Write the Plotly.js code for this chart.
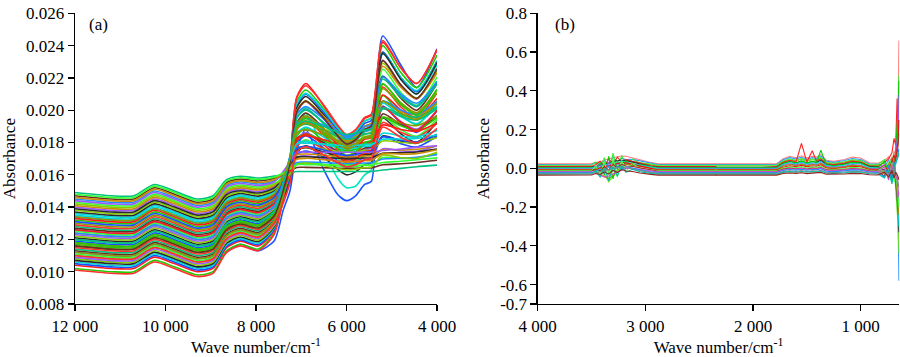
<!DOCTYPE html>
<html><head><meta charset="utf-8">
<script src="https://cdn.plot.ly/plotly-3.0.1.min.js"></script>
<style>html,body{margin:0;padding:0;background:#fff}#chart{width:900px;height:357px}</style>
</head><body><div id="chart"></div>
<script>
// Panel (a): anchor wavenumbers (cm-1) and spectra
const wavenumberA = [12000, 11200, 10700, 10250, 9800, 9300, 8950, 8650, 8350, 7950, 7600, 7400, 7250, 7100, 6900, 6500, 6200, 6000, 5800, 5600, 5450, 5200, 4800, 4450, 4000];
const spectraA = [
[.01080,.01060,.01060,.01120,.01080,.01030,.01050,.01120,.01170,.01130,.01190,.01380,.01500,.01750,.01880,.01630,.01480,.01440,.01470,.01540,.01560,.02460,.02280,.02140,.02380],
[.01100,.01080,.01080,.01150,.01110,.01060,.01080,.01200,.01240,.01210,.01300,.01460,.01600,.01880,.01980,.01750,.01580,.01520,.01530,.01600,.01630,.02360,.02200,.02100,.02280],
[.01020,.01000,.01000,.01070,.01030,.00980,.01000,.01130,.01170,.01140,.01240,.01447,.01669,.02051,.02125,.02007,.01889,.01830,.01859,.01933,.01954,.02400,.02233,.02140,.02341],
[.01040,.01020,.01020,.01090,.01050,.01000,.01020,.01149,.01188,.01159,.01255,.01460,.01681,.02080,.02165,.02026,.01902,.01840,.01871,.01949,.01970,.02420,.02263,.02165,.02376],
[.01050,.01030,.01030,.01100,.01060,.01010,.01030,.01158,.01197,.01168,.01262,.01457,.01667,.02029,.02099,.01987,.01876,.01820,.01848,.01918,.01937,.02360,.02203,.02115,.02306],
[.01060,.01040,.01040,.01110,.01070,.01020,.01040,.01168,.01206,.01178,.01270,.01470,.01681,.02038,.02104,.01998,.01893,.01840,.01866,.01932,.01951,.02352,.02203,.02121,.02302],
[.01070,.01050,.01050,.01120,.01080,.01030,.01050,.01177,.01215,.01187,.01278,.01461,.01660,.02014,.02085,.01971,.01857,.01800,.01829,.01900,.01920,.02352,.02191,.02101,.02296],
[.01080,.01060,.01060,.01130,.01090,.01040,.01060,.01186,.01224,.01196,.01285,.01469,.01665,.01996,.02058,.01959,.01860,.01810,.01835,.01897,.01914,.02291,.02152,.02076,.02247],
[.01090,.01070,.01070,.01140,.01100,.01050,.01070,.01196,.01233,.01206,.01293,.01463,.01649,.01985,.02053,.01944,.01835,.01780,.01807,.01876,.01895,.02309,.02155,.02069,.02257],
[.01100,.01080,.01080,.01150,.01110,.01060,.01080,.01205,.01242,.01215,.01300,.01482,.01674,.01994,.02053,.01960,.01867,.01820,.01843,.01901,.01918,.02272,.02142,.02071,.02232],
[.01110,.01090,.01090,.01160,.01120,.01070,.01090,.01214,.01251,.01224,.01307,.01466,.01638,.01951,.02014,.01912,.01811,.01760,.01785,.01849,.01867,.02253,.02110,.02031,.02206],
[.01120,.01100,.01100,.01170,.01130,.01080,.01100,.01224,.01260,.01234,.01315,.01481,.01658,.01953,.02007,.01920,.01833,.01790,.01812,.01866,.01881,.02212,.02092,.02026,.02177],
[.01130,.01110,.01110,.01180,.01140,.01090,.01110,.01233,.01269,.01243,.01322,.01468,.01628,.01921,.01982,.01885,.01788,.01740,.01764,.01825,.01842,.02209,.02074,.02000,.02167],
[.01140,.01120,.01120,.01190,.01150,.01100,.01120,.01243,.01278,.01253,.01330,.01505,.01673,.01951,.02002,.01921,.01840,.01800,.01820,.01871,.01885,.02193,.02082,.02021,.02162],
[.01150,.01130,.01130,.01200,.01160,.01110,.01130,.01252,.01287,.01262,.01338,.01468,.01611,.01877,.01933,.01844,.01755,.01710,.01732,.01788,.01804,.02144,.02020,.01952,.02107],
[.01160,.01140,.01140,.01210,.01170,.01120,.01140,.01261,.01295,.01271,.01345,.01494,.01651,.01910,.01956,.01882,.01807,.01770,.01789,.01835,.01848,.02133,.02032,.01977,.02108],
[.01170,.01150,.01150,.01220,.01180,.01130,.01150,.01271,.01304,.01281,.01353,.01467,.01595,.01838,.01891,.01806,.01722,.01680,.01701,.01754,.01769,.02091,.01974,.01910,.02057],
[.01180,.01160,.01160,.01230,.01190,.01140,.01160,.01280,.01313,.01290,.01360,.01500,.01647,.01888,.01931,.01862,.01794,.01760,.01777,.01820,.01832,.02094,.02002,.01952,.02073],
[.01190,.01170,.01170,.01240,.01200,.01150,.01170,.01289,.01322,.01299,.01367,.01466,.01577,.01794,.01842,.01765,.01688,.01650,.01669,.01717,.01731,.02025,.01920,.01863,.01998],
[.01200,.01180,.01180,.01250,.01210,.01160,.01180,.01299,.01331,.01309,.01375,.01503,.01638,.01856,.01895,.01833,.01771,.01740,.01756,.01794,.01805,.02045,.01962,.01917,.02028],
[.01210,.01190,.01190,.01260,.01220,.01170,.01190,.01308,.01340,.01318,.01382,.01458,.01551,.01735,.01780,.01708,.01636,.01600,.01618,.01663,.01676,.01952,.01854,.01801,.01928],
[.01220,.01200,.01200,.01270,.01230,.01180,.01200,.01318,.01349,.01328,.01390,.01527,.01668,.01885,.01920,.01864,.01808,.01780,.01794,.01829,.01839,.02055,.01981,.01943,.02043],
[.01230,.01210,.01210,.01280,.01240,.01190,.01210,.01327,.01358,.01337,.01398,.01504,.01618,.01821,.01861,.01797,.01732,.01700,.01716,.01756,.01768,.02016,.01930,.01883,.01998],
[.01240,.01220,.01220,.01290,.01250,.01200,.01220,.01336,.01367,.01346,.01405,.01547,.01691,.01903,.01934,.01884,.01835,.01810,.01822,.01853,.01862,.02056,.01991,.01958,.02048],
[.01250,.01230,.01230,.01300,.01260,.01210,.01230,.01346,.01376,.01356,.01413,.01503,.01602,.01779,.01816,.01757,.01699,.01670,.01685,.01721,.01731,.01957,.01879,.01838,.01943],
[.01260,.01240,.01240,.01310,.01270,.01220,.01240,.01355,.01385,.01365,.01420,.01567,.01715,.01921,.01949,.01905,.01862,.01840,.01851,.01878,.01886,.02056,.02001,.01973,.02054],
[.01270,.01250,.01250,.01320,.01280,.01230,.01250,.01364,.01394,.01374,.01427,.01530,.01638,.01818,.01850,.01798,.01746,.01720,.01733,.01766,.01775,.01977,.01909,.01874,.01968],
[.01280,.01260,.01260,.01330,.01290,.01240,.01260,.01374,.01403,.01384,.01435,.01570,.01704,.01890,.01913,.01876,.01839,.01820,.01829,.01853,.01859,.02007,.01961,.01938,.02009],
[.01290,.01270,.01270,.01340,.01300,.01250,.01270,.01383,.01412,.01393,.01442,.01529,.01622,.01778,.01808,.01761,.01714,.01690,.01702,.01731,.01739,.01924,.01863,.01832,.01918],
[.01300,.01280,.01280,.01350,.01310,.01260,.01280,.01393,.01421,.01403,.01450,.01573,.01695,.01858,.01878,.01847,.01816,.01800,.01808,.01827,.01833,.01957,.01921,.01904,.01964],
[.01320,.01300,.01300,.01370,.01330,.01280,.01300,.01411,.01439,.01421,.01465,.01565,.01668,.01827,.01852,.01811,.01770,.01750,.01760,.01786,.01793,.01954,.01903,.01877,.01954],
[.01330,.01310,.01310,.01380,.01340,.01290,.01310,.01421,.01448,.01431,.01473,.01580,.01686,.01827,.01842,.01817,.01792,.01780,.01786,.01802,.01806,.01908,.01881,.01869,.01919],
[.01340,.01320,.01320,.01390,.01350,.01300,.01320,.01430,.01457,.01440,.01480,.01543,.01611,.01725,.01747,.01712,.01677,.01660,.01669,.01690,.01696,.01835,.01793,.01772,.01839],
[.01360,.01340,.01340,.01410,.01370,.01320,.01340,.01449,.01475,.01459,.01495,.01588,.01679,.01795,.01807,.01788,.01769,.01760,.01765,.01776,.01780,.01858,.01840,.01834,.01874],
[.01370,.01350,.01350,.01420,.01380,.01330,.01350,.01458,.01484,.01468,.01502,.01571,.01643,.01751,.01768,.01741,.01714,.01700,.01707,.01724,.01729,.01840,.01809,.01795,.01849],
[.01380,.01360,.01360,.01430,.01390,.01340,.01360,.01468,.01493,.01478,.01510,.01590,.01668,.01763,.01771,.01759,.01746,.01740,.01743,.01751,.01753,.01809,.01800,.01799,.01830],
[.01400,.01380,.01380,.01450,.01410,.01360,.01380,.01486,.01510,.01496,.01525,.01579,.01634,.01708,.01717,.01702,.01687,.01680,.01684,.01693,.01696,.01761,.01748,.01745,.01780],
[.01410,.01390,.01390,.01460,.01420,.01370,.01390,.01496,.01519,.01506,.01533,.01595,.01655,.01724,.01729,.01721,.01714,.01710,.01712,.01717,.01718,.01755,.01754,.01758,.01780],
[.01430,.01410,.01410,.01480,.01440,.01390,.01410,.01514,.01537,.01524,.01547,.01583,.01620,.01669,.01675,.01665,.01655,.01650,.01652,.01659,.01660,.01707,.01702,.01704,.01730],
[.01450,.01430,.01430,.01500,.01460,.01410,.01430,.01533,.01555,.01543,.01562,.01600,.01636,.01677,.01679,.01676,.01672,.01670,.01671,.01673,.01674,.01698,.01702,.01709,.01725],
[.01470,.01450,.01450,.01520,.01480,.01430,.01450,.01552,.01573,.01562,.01578,.01600,.01621,.01645,.01646,.01644,.01641,.01640,.01641,.01642,.01643,.01662,.01668,.01676,.01690],
[.01490,.01470,.01470,.01540,.01500,.01450,.01470,.01570,.01591,.01580,.01592,.01602,.01611,.01620,.01620,.01620,.01620,.01620,.01620,.01620,.01620,.01630,.01640,.01650,.01660],
[.01010,.00990,.00990,.01060,.01020,.00970,.00990,.01120,.01160,.01130,.01230,.01447,.01679,.02076,.02151,.02031,.01910,.01850,.01880,.01955,.01976,.02432,.02261,.02166,.02372],
[.01120,.01100,.01100,.01170,.01130,.01080,.01100,.01224,.01260,.01234,.01315,.01471,.01637,.01914,.01965,.01883,.01801,.01760,.01781,.01832,.01846,.02160,.02047,.01985,.02128],
[.01180,.01160,.01160,.01230,.01190,.01140,.01160,.01280,.01313,.01290,.01360,.01486,.01626,.01892,.01949,.01857,.01766,.01720,.01743,.01800,.01816,.02165,.02038,.01968,.02130],
[.01260,.01240,.01240,.01310,.01270,.01220,.01240,.01355,.01385,.01365,.01420,.01511,.01613,.01810,.01854,.01784,.01715,.01680,.01697,.01741,.01753,.02020,.01926,.01875,.01998],
[.01310,.01290,.01290,.01360,.01320,.01270,.01290,.01402,.01430,.01412,.01458,.01550,.01641,.01762,.01776,.01754,.01731,.01720,.01726,.01740,.01744,.01836,.01813,.01803,.01850],
[.01350,.01330,.01330,.01400,.01360,.01310,.01330,.01439,.01466,.01449,.01487,.01590,.01687,.01792,.01796,.01790,.01783,.01780,.01782,.01786,.01787,.01820,.01821,.01825,.01846],
[.01390,.01370,.01370,.01440,.01400,.01350,.01370,.01477,.01501,.01487,.01518,.01582,.01642,.01709,.01712,.01707,.01702,.01700,.01701,.01704,.01705,.01733,.01736,.01741,.01759],
[.01420,.01400,.01400,.01470,.01430,.01380,.01400,.01505,.01528,.01515,.01540,.01572,.01605,.01663,.01673,.01656,.01639,.01630,.01634,.01645,.01648,.01722,.01706,.01701,.01739],
[.01440,.01420,.01420,.01490,.01450,.01400,.01420,.01524,.01546,.01534,.01555,.01620,.01680,.01740,.01740,.01740,.01740,.01740,.01740,.01740,.01740,.01750,.01760,.01770,.01780],
[.01460,.01440,.01440,.01510,.01470,.01420,.01440,.01542,.01564,.01552,.01569,.01608,.01646,.01696,.01702,.01693,.01684,.01680,.01682,.01688,.01689,.01731,.01728,.01731,.01755],
[.01480,.01460,.01460,.01530,.01490,.01440,.01460,.01561,.01582,.01571,.01585,.01611,.01636,.01662,.01663,.01662,.01661,.01660,.01660,.01661,.01661,.01676,.01684,.01693,.01705],
[.01240,.01220,.01220,.01290,.01250,.01200,.01220,.01336,.01367,.01346,.01405,.01554,.01711,.01974,.02022,.01945,.01868,.01830,.01849,.01897,.01911,.02205,.02100,.02043,.02178],
[.01160,.01140,.01140,.01210,.01170,.01120,.01140,.01261,.01295,.01271,.01345,.01501,.01673,.01990,.02057,.01950,.01843,.01790,.01817,.01883,.01902,.02307,.02157,.02073,.02257],
[.01200,.01180,.01180,.01250,.01210,.01160,.01180,.01299,.01331,.01309,.01375,.01541,.01704,.01911,.01931,.01899,.01866,.01850,.01858,.01878,.01884,.02014,.01975,.01957,.02020],
[.01100,.01080,.01080,.01150,.01110,.01060,.01080,.01205,.01242,.01215,.01300,.01423,.01549,.01743,.01774,.01724,.01675,.01650,.01662,.01693,.01702,.01896,.01831,.01798,.01888],
[.01340,.01320,.01320,.01390,.01350,.01300,.01320,.01430,.01457,.01440,.01480,.01585,.01697,.01885,.01920,.01864,.01808,.01780,.01794,.01829,.01839,.02055,.01981,.01943,.02043]
];

// Panel (b): anchor wavenumbers (cm-1) and spectra
const wavenumberB = [4000, 3600, 3500, 3460, 3420, 3380, 3340, 3300, 3260, 3220, 3180, 3120, 3050, 2950, 2880, 2360, 2345, 2330, 1780, 1720, 1660, 1600, 1550, 1500, 1450, 1410, 1370, 1320, 1250, 1150, 1080, 1000, 920, 840, 780, 740, 710, 690, 675, 662, 652, 645];
const spectraB = [
[.024,.024,.025,.030,.034,.042,.050,.056,.060,.064,.062,.055,.044,.030,.024,.024,.024,.024,.024,.050,.062,.055,.065,.053,.062,.058,.072,.042,.036,.046,.058,.053,.029,.026,.040,.060,.030,.090,.060,.200,.340,.660],
[.020,.020,.021,.028,.018,.040,.022,.058,.036,.052,.045,.046,.038,.026,.020,.020,.020,.020,.020,.044,.055,.049,.057,.046,.055,.051,.064,.037,.031,.040,.051,.046,.024,.022,.005,.045,-.010,.050,-.080,-.150,-.300,-.580],
[.016,.016,.017,.032,-.004,.055,-.030,.078,-.010,.066,.020,.048,.028,.022,.016,.016,.016,.016,.016,.038,.048,.042,.050,.040,.048,.044,.056,.031,.026,.034,.044,.040,.020,.018,.045,-.020,.060,-.040,.090,.150,.280,.480],
[.012,.012,.012,.000,-.015,-.030,-.069,-.040,-.020,.005,.030,.035,.027,.018,.012,.012,.012,.012,.012,.034,.044,.038,.046,.036,.044,.040,.052,.027,.022,.030,.040,.036,.016,.014,-.020,.030,-.050,.020,-.100,-.200,-.300,-.440],
[.009,.009,.010,.020,.036,.010,.050,.020,.058,.035,.045,.036,.026,.015,.009,.009,.009,-.012,.009,.031,.041,.035,.129,.033,.091,.037,.049,.024,.019,.027,.037,.033,.013,.011,.030,.050,.080,.155,.120,.360,.150,.250],
[.006,.006,.007,.010,.016,.022,.030,.036,.040,.042,.040,.032,.022,.011,.006,.006,.006,.006,.006,.026,.035,.029,.037,.028,.035,.031,.042,.020,.015,.022,.031,.028,.010,.008,-.010,.020,-.030,.040,-.060,-.120,-.220,-.330],
[.003,.003,.004,-.010,.030,-.035,.062,-.055,.040,-.010,.038,.012,.020,.009,.003,.003,.003,.003,.003,.025,.035,.029,.037,.027,.035,.031,.094,.018,.013,.021,.031,.027,.007,.005,.035,-.030,.050,-.030,.080,.180,.300,.450],
[.000,.000,.001,.012,.005,.025,.010,.035,.020,.038,.030,.024,.016,.005,.000,.000,.000,.000,.000,.020,.029,.023,.031,.022,.029,.025,.036,.014,.009,.016,.025,.022,.004,.002,-.025,.010,-.045,.030,-.050,-.100,-.200,-.300],
[-.003,-.003,-.002,.006,.015,-.008,.030,.000,.028,.010,.022,.020,.012,.002,-.003,-.003,-.003,-.003,-.003,.015,.023,.018,.024,.016,.023,.019,.029,.009,.005,.011,.019,.016,.000,-.002,.020,-.035,.040,-.020,.070,.120,.200,.380],
[-.006,-.006,-.006,-.015,-.028,-.040,-.055,-.035,-.010,.008,.020,.018,.010,-.001,-.006,-.006,-.006,-.006,-.006,.012,.020,.015,.021,.013,.020,.016,.026,.006,.002,.008,.016,.013,-.003,-.005,-.030,.025,-.060,.060,-.040,-.090,-.160,-.240],
[-.009,-.009,-.008,-.004,.002,.008,.015,.022,.028,.030,.028,.020,.010,-.003,-.009,-.009,-.035,-.009,-.009,.006,.013,.009,.015,.008,.013,.011,.019,.002,-.002,.004,.011,.008,-.006,-.008,.015,-.020,.030,.070,.040,.090,.150,.250],
[-.012,-.012,-.011,.010,-.030,.035,-.060,.050,-.045,.040,-.015,.025,.000,-.006,-.012,-.012,-.012,-.012,-.012,.001,.007,.004,.008,.002,.007,.005,.012,-.003,-.006,-.001,.005,.002,-.010,-.011,.010,-.050,.030,-.070,-.020,-.080,-.120,-.200],
[-.015,-.015,-.014,-.005,-.012,.008,-.008,.020,.002,.022,.012,.010,.002,-.010,-.015,-.015,-.015,-.015,-.015,-.004,.001,-.002,.002,-.003,.001,-.001,.005,-.008,-.010,-.006,-.001,-.003,-.013,-.014,-.040,.010,-.060,.020,.050,.080,.120,.180],
[-.018,-.018,-.018,-.025,-.035,-.045,-.040,-.030,-.020,-.008,.000,.000,-.006,-.014,-.018,-.018,-.018,-.018,-.018,-.007,-.002,-.005,-.001,-.006,-.002,-.004,.002,-.011,-.013,-.009,-.004,-.006,-.016,-.017,.005,-.060,.020,-.050,-.030,-.060,-.100,-.150],
[-.022,-.022,-.021,-.014,-.004,-.025,.010,-.015,.012,-.005,.008,.002,-.008,-.018,-.022,-.022,-.022,-.022,-.022,-.011,-.006,-.009,-.005,-.010,-.006,-.008,-.002,-.015,-.017,-.013,-.008,-.010,-.020,-.021,-.045,.015,-.070,.030,.020,.050,.080,.100],
[-.026,-.026,-.025,-.022,-.018,-.012,-.006,.000,.004,.006,.004,-.004,-.012,-.021,-.026,-.026,-.026,-.026,-.026,-.017,-.013,-.016,-.012,-.016,-.013,-.015,-.010,-.020,-.022,-.019,-.015,-.016,-.024,-.025,-.010,-.040,.000,-.030,-.020,-.040,-.070,-.100],
[-.030,-.030,-.029,-.012,-.045,.000,-.065,.010,-.040,.015,-.020,-.005,-.018,-.026,-.030,-.030,-.030,-.030,-.030,-.021,-.017,-.020,-.016,-.020,-.017,-.019,-.014,-.024,-.026,-.023,-.019,-.020,-.028,-.029,-.050,-.010,-.080,.010,.030,.040,.060,.080],
[-.035,-.035,-.034,-.027,-.032,-.018,-.030,-.010,-.022,-.006,-.014,-.016,-.024,-.031,-.035,-.035,-.035,-.035,-.035,-.027,-.024,-.026,-.023,-.027,-.024,-.025,-.021,-.030,-.031,-.029,-.026,-.027,-.033,-.034,-.020,-.045,-.010,-.050,-.020,-.030,-.045,-.060]
];

// Tick labels
const xTicksA = [12000, 10000, 8000, 6000, 4000];
const xTickTextA = ['12 000', '10 000', '8 000', '6 000', '4 000'];
const xTicksB = [4000, 3000, 2000, 1000];
const xTickTextB = ['4 000', '3 000', '2 000', '1 000'];
const yTicksB = [-0.7, -0.6, -0.4, -0.2, 0, 0.2, 0.4, 0.6, 0.8];
const yTickTextB = ['-0.7', '-0.6', '-0.4', '-0.2', '0.0', '0.2', '0.4', '0.6', '0.8'];

// Styles
const outlierColorsA = ['#1a55ff', '#00e8c0'];
const paletteA = ['#22cc00', '#ff1a1a', '#1a4dff', '#00d8d8', '#2b2b2b', '#88cc00', '#9b59ff', '#cc8a00', '#33ff33', '#1e90ff', '#6b2e1f', '#00c080', '#ff3030', '#8a9a00'];
const colorsB = ['#ff8080', '#3399ff', '#33ee33', '#66dd22', '#ff2020', '#333333', '#00cc00', '#00d5d5', '#9955ee', '#999900', '#ee1111', '#44ff44', '#aa3322', '#dd44dd', '#1e90ff', '#888888', '#00bfa0', '#992222'];

const FONT = 'Liberation Serif, "Times New Roman", Times, serif';
const traces = [];
spectraA.forEach((row, i) => {
  const c = i < 2 ? outlierColorsA[i] : paletteA[(i - 2) % paletteA.length];
  traces.push({x: wavenumberA, y: row, xaxis: 'x', yaxis: 'y', type: 'scatter', mode: 'lines',
    line: {color: c, width: 1.6, shape: 'spline', smoothing: 0.7}, hoverinfo: 'skip', showlegend: false});
});
spectraB.forEach((row, i) => {
  traces.push({x: wavenumberB, y: row, xaxis: 'x2', yaxis: 'y2', type: 'scatter', mode: 'lines',
    line: {color: colorsB[i], width: 1.1}, hoverinfo: 'skip', showlegend: false});
});

const axisCommon = {showline: true, linecolor: '#000', linewidth: 1.2, ticks: 'outside', ticklen: 6, tickwidth: 1.2, tickcolor: '#000',
  showgrid: false, zeroline: false, mirror: false, tickfont: {family: FONT, size: 17, color: '#000'}};
const yDom = [0.1485, 0.9627];
const layout = {
  width: 900, height: 357, autosize: false,
  margin: {l: 0, r: 0, t: 0, b: 0},
  paper_bgcolor: '#fff', plot_bgcolor: '#fff',
  font: {family: FONT, size: 17, color: '#000'},
  xaxis: Object.assign({}, axisCommon, {domain: [0.0833, 0.4856], range: [12000, 4000], anchor: 'y',
    tickmode: 'array', tickvals: xTicksA, ticktext: xTickTextA,
    title: {text: 'Wave number/cm<sup>-1</sup>', font: {family: FONT, size: 17}, standoff: 8}}),
  yaxis: Object.assign({}, axisCommon, {domain: yDom, range: [0.008, 0.026], anchor: 'x',
    tick0: 0.008, dtick: 0.002, tickformat: '.3f',
    title: {text: 'Absorbance', font: {family: FONT, size: 17}, standoff: 6}}),
  xaxis2: Object.assign({}, axisCommon, {domain: [0.5974, 0.9994], range: [4000, 640], anchor: 'y2',
    tickmode: 'array', tickvals: xTicksB, ticktext: xTickTextB,
    title: {text: 'Wave number/cm<sup>-1</sup>', font: {family: FONT, size: 17}, standoff: 8}}),
  yaxis2: Object.assign({}, axisCommon, {domain: yDom, range: [-0.7, 0.8], anchor: 'x2',
    tickmode: 'array', tickvals: yTicksB, ticktext: yTickTextB,
    title: {text: 'Absorbance', font: {family: FONT, size: 17}, standoff: 6}}),
  annotations: [
    {text: '(a)', xref: 'paper', yref: 'paper', x: 87 / 900, y: (357 - 25) / 357, xanchor: 'left', yanchor: 'middle', showarrow: false, font: {family: FONT, size: 17}},
    {text: '(b)', xref: 'paper', yref: 'paper', x: 553 / 900, y: (357 - 25) / 357, xanchor: 'left', yanchor: 'middle', showarrow: false, font: {family: FONT, size: 17}}
  ]
};
Plotly.newPlot('chart', traces, layout, {staticPlot: true, displayModeBar: false});
</script></body></html>
